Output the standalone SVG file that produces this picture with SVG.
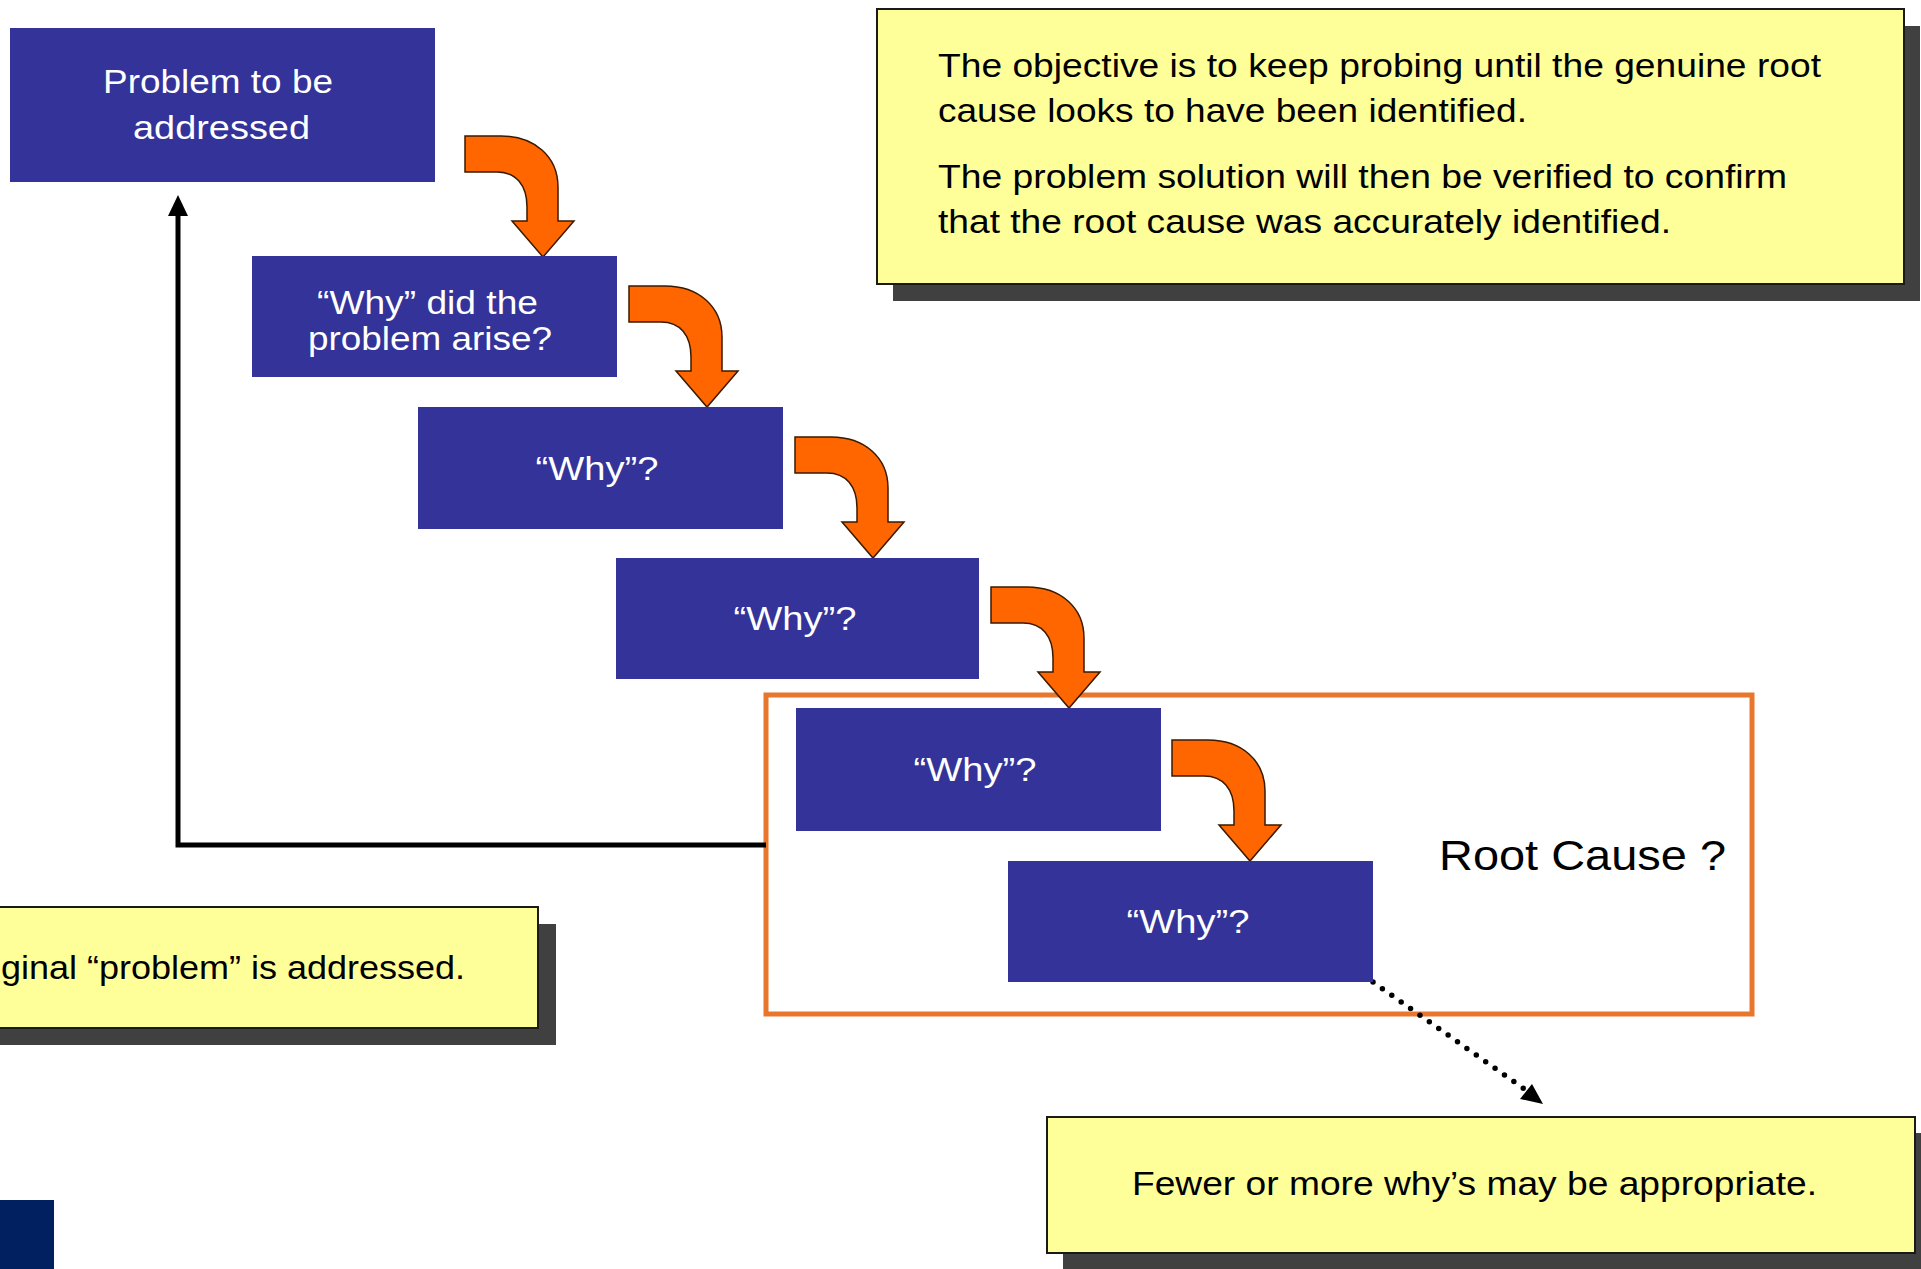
<svg xmlns="http://www.w3.org/2000/svg" xmlns:xlink="http://www.w3.org/1999/xlink" width="1921" height="1269" viewBox="0 0 1921 1269">
  <style>
    .box { fill: #333399; }
    .wt { fill: #ffffff; font-family: "Liberation Sans", Arial, sans-serif; font-size: 33px; text-anchor: middle; }
    .bt { fill: #000000; font-family: "Liberation Sans", Arial, sans-serif; font-size: 33px; }
    .note { fill: #FFFF99; stroke: #1a1a1a; stroke-width: 2; }
    .shadow { fill: #404040; }
    .curl { fill: #FF6600; stroke: #3a1a00; stroke-width: 1.5; stroke-linejoin: miter; }
  </style>
  <defs>
    <path id="curl" d="M -78,-121 L -42,-121 C -8,-121 15,-100 15,-70 L 15,-36 L 31,-36 L 0,0 L -31,-36 L -16,-36 L -16,-50 C -16,-72 -27,-85 -46,-85 L -78,-85 Z"/>
  </defs>
  <rect x="0" y="0" width="1921" height="1269" fill="#ffffff"/>

  <g id="root-cause-frame">
    <rect x="766" y="695" width="986" height="319" fill="none" stroke="#E8762D" stroke-width="5"/>
    <text class="bt" x="1439" y="870" style="font-size:42px" textLength="287" lengthAdjust="spacingAndGlyphs">Root Cause ?</text>
  </g>

  <g id="connectors">
    <polyline points="766,845 178,845 178,214" fill="none" stroke="#000" stroke-width="5"/>
    <polygon points="178,195 168,216 188,216" fill="#000"/>
    <line x1="1373" y1="982" x2="1530" y2="1093" stroke="#000" stroke-width="5.5" stroke-linecap="round" stroke-dasharray="0 11.5"/>
    <polygon points="1543,1104 1520,1099 1532,1084" fill="#000"/>
    <use href="#curl" class="curl" transform="translate(543,257)"/>
    <use href="#curl" class="curl" transform="translate(707,407)"/>
    <use href="#curl" class="curl" transform="translate(873,558)"/>
    <use href="#curl" class="curl" transform="translate(1069,708)"/>
    <use href="#curl" class="curl" transform="translate(1250,861)"/>
  </g>

  <g id="problem">
    <rect class="box" x="10" y="28" width="425" height="154"/>
    <text class="wt" x="218" y="93" textLength="230" lengthAdjust="spacingAndGlyphs">Problem to be</text>
    <text class="wt" x="221.5" y="139" textLength="177" lengthAdjust="spacingAndGlyphs">addressed</text>
  </g>
  <g id="why1">
    <rect class="box" x="252" y="256" width="365" height="121"/>
    <text class="wt" x="427.5" y="314" textLength="221" lengthAdjust="spacingAndGlyphs">“Why” did the</text>
    <text class="wt" x="430" y="350" textLength="244" lengthAdjust="spacingAndGlyphs">problem arise?</text>
  </g>
  <g id="why2">
    <rect class="box" x="418" y="407" width="365" height="122"/>
    <text class="wt" x="597" y="480" textLength="123" lengthAdjust="spacingAndGlyphs">“Why”?</text>
  </g>
  <g id="why3">
    <rect class="box" x="616" y="558" width="363" height="121"/>
    <text class="wt" x="795" y="630" textLength="123" lengthAdjust="spacingAndGlyphs">“Why”?</text>
  </g>
  <g id="why4">
    <rect class="box" x="796" y="708" width="365" height="123"/>
    <text class="wt" x="975" y="781" textLength="123" lengthAdjust="spacingAndGlyphs">“Why”?</text>
  </g>
  <g id="why5">
    <rect class="box" x="1008" y="861" width="365" height="121"/>
    <text class="wt" x="1188" y="933" textLength="123" lengthAdjust="spacingAndGlyphs">“Why”?</text>
  </g>

  <g id="note-objective">
    <rect class="shadow" x="893" y="26" width="1027" height="275"/>
    <rect class="note" x="877" y="9" width="1027" height="275"/>
    <text class="bt" x="938" y="77" textLength="883" lengthAdjust="spacingAndGlyphs">The objective is to keep probing until the genuine root</text>
    <text class="bt" x="938" y="122" textLength="589" lengthAdjust="spacingAndGlyphs">cause looks to have been identified.</text>
    <text class="bt" x="938" y="188" textLength="849" lengthAdjust="spacingAndGlyphs">The problem solution will then be verified to confirm</text>
    <text class="bt" x="938" y="233" textLength="733" lengthAdjust="spacingAndGlyphs">that the root cause was accurately identified.</text>
  </g>

  <g id="note-original">
    <rect class="shadow" x="-20" y="924" width="576" height="121"/>
    <rect class="note" x="-20" y="907" width="558" height="121"/>
    <text class="bt" x="1" y="979" textLength="464" lengthAdjust="spacingAndGlyphs">ginal “problem” is addressed.</text>
  </g>

  <g id="note-fewer">
    <rect class="shadow" x="1063" y="1133" width="870" height="140"/>
    <rect class="note" x="1047" y="1117" width="868" height="136"/>
    <text class="bt" x="1132" y="1195" textLength="685" lengthAdjust="spacingAndGlyphs">Fewer or more why’s may be appropriate.</text>
  </g>

  <g id="corner-block">
    <rect x="0" y="1200" width="54" height="69" fill="#012060"/>
  </g>
</svg>
